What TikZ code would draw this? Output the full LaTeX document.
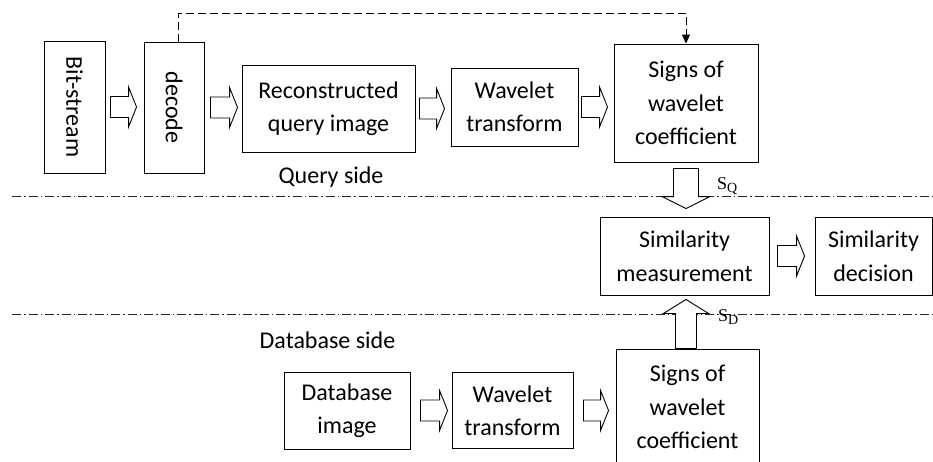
\documentclass[tikz,border=0pt]{standalone}
\usepackage{fontspec}
\setmainfont{Carlito}
\newfontfamily\tms{Liberation Serif}
\usepackage{graphicx}
\usetikzlibrary{calc,arrows.meta}
\tikzset{
  blk/.style={draw=black, line width=0.9pt, inner sep=0pt, align=center,
    font=\fontsize{24}{33.5}\selectfont},
  lbl/.style={inner sep=0pt, font=\fontsize{24}{33.5}\selectfont},
  hollow/.style={draw=black, line width=0.9pt, fill=white, line join=miter},
  sepline/.style={draw=black!85, line width=0.9pt, dash pattern=on 9pt off 3pt on 1.5pt off 3pt},
  fbline/.style={draw=black, line width=1pt, dash pattern=on 8pt off 4pt},
  sublbl/.style={inner sep=0pt, anchor=base west}
}
\newcommand{\subtxt}[1]{{\tms\fontsize{18}{18}\selectfont S\raisebox{-0.2em}{\fontsize{14}{14}\selectfont #1}}}
\newcommand{\harr}[2]{\path[hollow] let \p1=(#1), \p2=(#2) in
  (\x1,\y1+10.5pt) -- (\x2-8pt,\y1+10.5pt) -- (\x2-8pt,\y1+20pt) -- (\x2,\y1)
  -- (\x2-8pt,\y1-20pt) -- (\x2-8pt,\y1-10.5pt) -- (\x1,\y1-10.5pt) -- cycle;}
\newcommand{\darr}[2]{\path[hollow] let \p1=(#1), \p2=(#2) in
  (\x1-12.5pt,\y1) -- (\x1-12.5pt,\y2+12pt) -- (\x1-24pt,\y2+12pt) -- (\x1,\y2)
  -- (\x1+24pt,\y2+12pt) -- (\x1+12.5pt,\y2+12pt) -- (\x1+12.5pt,\y1) -- cycle;}
\newcommand{\uarr}[2]{\path[hollow] let \p1=(#1), \p2=(#2) in
  (\x1-10.5pt,\y1) -- (\x1-10.5pt,\y2-14pt) -- (\x1-22.5pt,\y2-14pt) -- (\x1,\y2)
  -- (\x1+22.5pt,\y2-14pt) -- (\x1+10.5pt,\y2-14pt) -- (\x1+10.5pt,\y1) -- cycle;}
\begin{document}
\begin{tikzpicture}[x=1pt,y=-1pt]
\useasboundingbox (0,0) rectangle (933,461);
\clip (0,0) rectangle (933,461);
% separator lines
\coordinate (l1a) at (12,196); \coordinate (l1b) at (933,196);
\coordinate (l2a) at (12,314); \coordinate (l2b) at (933,314);
\draw[sepline] (l1a) -- (l1b);
\draw[sepline] (l2a) -- (l2b);
% query side
\node[blk, minimum width=61pt, minimum height=132pt] (bit) at (74.5,107) {\rotatebox{-90}{Bit-stream}};
\node[blk, minimum width=60pt, minimum height=131pt] (dec) at (174,107.5) {\rotatebox{-90}{decode}};
\node[blk, minimum width=173pt, minimum height=87pt] (rec) at (328.5,108.5) {Reconstructed\\query image};
\node[blk, minimum width=127pt, minimum height=78pt] (wt1) at (514.5,107) {Wavelet\\transform};
\node[blk, minimum width=144pt, minimum height=118pt] (sg1) at (686,103) {Signs of\\wavelet\\coefficient};
\node[lbl, anchor=base] (qs) at (331,183) {Query side};
% middle
\node[blk, minimum width=169pt, minimum height=78pt] (sm) at (684.5,256) {Similarity\\measurement};
\node[blk, minimum width=117pt, minimum height=78pt] (sd) at (873.5,256) {Similarity\\decision};
% database side
\node[lbl, anchor=base] (ds) at (327.5,348) {Database side};
\node[blk, minimum width=126pt, minimum height=77pt] (db) at (347,410.5) {Database\\image};
\node[blk, minimum width=121pt, minimum height=76pt] (wt2) at (512.5,410.5) {Wavelet\\transform};
\node[blk, minimum width=143pt, minimum height=116pt] (sg2) at (687.5,407) {Signs of\\wavelet\\coefficient};
% dashed feedback
\draw[fbline, -{Triangle[length=9pt,width=8pt]}] ($(dec.north)+(4,0)$) -- ++(0,-28.5) -| (sg1.north);
% hollow arrows
\harr{$(bit.east)+(5,0)$}{$(dec.west)+(-7,0)$}
\harr{$(dec.east)+(6,0)$}{$(rec.west)+(-4,0)$}
\harr{$(rec.east)+(4,0)$}{$(wt1.west)+(-6,0)$}
\harr{$(wt1.east)+(3,0)$}{$(sg1.west)+(-6,0)$}
\harr{$(sm.east)+(8,0)$}{$(sd.west)+(-10,0)$}
\harr{$(db.east)+(10,0)$}{$(wt2.west)+(-4,0)$}
\harr{$(wt2.east)+(10,0)$}{$(sg2.west)+(-7,0)$}
\darr{$(sg1.south)+(0,6)$}{$(sm.north)+(0,-8)$}
\uarr{$(sg2.north)+(-1.5,0)$}{$(sm.south)+(0,4)$}
% labels
\node[sublbl] (sq) at (717,189) {\subtxt{Q}};
\node[sublbl] (sdl) at (718,321) {\subtxt{D}};
\end{tikzpicture}
\end{document}
